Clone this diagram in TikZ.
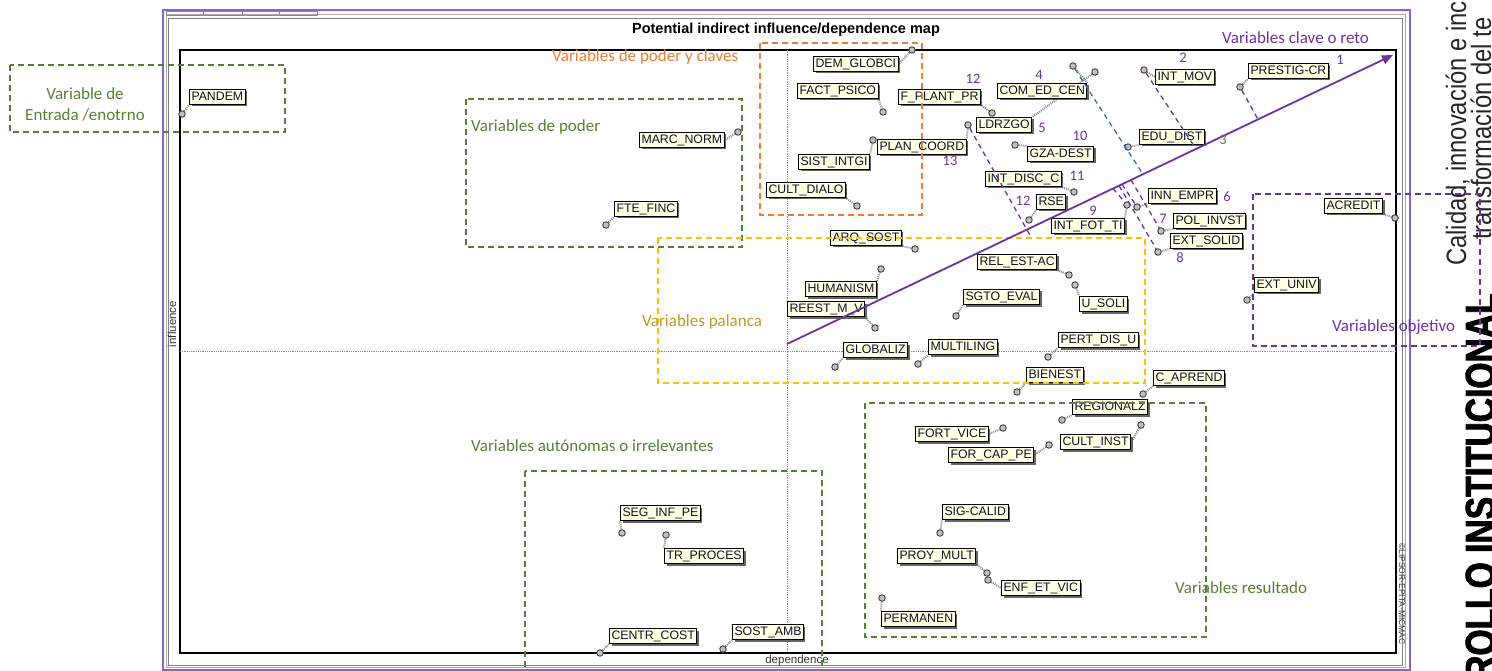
\documentclass[tikz,border=0pt]{standalone}
\usepackage{fontspec}
\setmainfont{Liberation Sans}
\newfontfamily\notefont{Carlito}
\newfontfamily\condfont[FakeStretch=0.85]{Liberation Sans}
\newfontfamily\headfont[FakeStretch=0.8, BoldFeatures={FakeBold=2}]{Liberation Sans}
\usetikzlibrary{shadows,arrows.meta}

\definecolor{purp}{RGB}{112,48,160}
\definecolor{grn}{RGB}{84,130,53}
\definecolor{orng}{RGB}{237,125,49}
\definecolor{gold}{RGB}{255,192,0}
\definecolor{goldtxt}{RGB}{196,152,30}
\definecolor{bluel}{RGB}{46,117,182}
\definecolor{cream}{RGB}{255,255,225}
\definecolor{winframe}{RGB}{140,100,200}
\definecolor{labeltext}{RGB}{15,15,45}

\pgfdeclarelayer{frame}
\pgfdeclarelayer{links}
\pgfdeclarelayer{notes}
\pgfsetlayers{frame,links,main,notes}

\tikzset{
  lbl/.style={draw=black, line width=1pt, fill=cream, text=labeltext,
    font=\fontsize{12.3}{14}\selectfont, inner xsep=2pt, inner ysep=1.8pt,
    text height=9pt, text depth=2.4pt, anchor=north west,
    drop shadow={shadow xshift=2pt, shadow yshift=-2pt, fill=black!60, opacity=1}},
  pt/.style={circle, draw=black!75, fill=black!25, line width=0.9pt,
    minimum size=6.5pt, inner sep=0pt},
  cnx/.style={draw=black!45, line width=2pt, dash pattern=on 1pt off 1pt},
  grp/.style={dash pattern=on 6pt off 4pt, line width=1.4pt},
  note/.style={font=\notefont\fontsize{17}{21}\selectfont, inner sep=0pt, anchor=west},
  num/.style={font=\notefont\fontsize{14.5}{15}\selectfont, text=purp, inner sep=0pt},
  proj/.style={draw=purp, line width=1.3pt, dash pattern=on 5pt off 4pt},
  axislbl/.style={font=\fontsize{11.5}{12}\selectfont, text=black!80, inner sep=0pt}
}

% one plotted variable: label box, its point, and the link between them
\newcommand{\plotvar}[5]{%
  \node[lbl] (#1) at (#2) {#3};
  \node[pt] (#1p) at (#4) {};
  \begin{pgfonlayer}{links}\draw[cnx] (#1p) -- (#1.#5);\end{pgfonlayer}}

\begin{document}
\begin{tikzpicture}[x=1pt, y=-1pt]
\useasboundingbox (0,0) rectangle (1492,671);

% ---------- window and plot frame ----------
\begin{pgfonlayer}{frame}
  \draw[winframe, line width=2pt] (163,10) rectangle (1410,670);
  \draw[black!35, line width=1pt] (166,15) rectangle (1405,667);
  \draw[black!50, line width=1pt] (168,19) rectangle (1402,665);
  \foreach \a/\b in {166/203, 203/242, 242/279, 279/317}
    \draw[black!45, line width=0.8pt] (\a,11) rectangle (\b,15);
  \draw[black, line width=1.2pt] (180,50) rectangle (1396,653);
  \draw[black!45, line width=0.8pt, densely dotted] (787,50) -- (787,653);
  \draw[black!45, line width=0.8pt, densely dotted] (180,351) -- (1396,351);
\end{pgfonlayer}

\node[font=\bfseries\fontsize{14.5}{16}\selectfont, inner sep=0pt] (title) at (786,30)
  {Potential indirect influence/dependence map};
\node[axislbl] (deplbl) at (797,661) {dependence};
\node[axislbl, rotate=90] (inflbl) at (172,324) {influence};
\node[font=\fontsize{8.5}{9}\selectfont, rotate=-90, inner sep=0pt, text=black!80] (copy)
  at (1402,594) {©LIPSOR-EPITA-MICMAC};

% ---------- plotted variables ----------
\plotvar{pandem}{189,89}{PANDEM}{182,114}{south west}
\plotvar{demglob}{813,56}{DEM\_GLOBCI}{912,50}{east}
\plotvar{factpsico}{797,83}{FACT\_PSICO}{883,112}{south east}
\plotvar{fplant}{898,89}{F\_PLANT\_PR}{992,113}{south east}
\plotvar{comed}{997,83}{COM\_ED\_CEN}{1073,66}{north east}
\plotvar{ldr}{976,117}{LDRZGO}{1095,72}{north east}
\plotvar{plan}{877,139}{PLAN\_COORD}{968,125}{north east}
\plotvar{sist}{798,154}{SIST\_INTGI}{873,140}{north east}
\plotvar{cultd}{766,182}{CULT\_DIALO}{857,206}{south east}
\plotvar{gza}{1027,146}{GZA-DEST}{1015,145}{north west}
\plotvar{edu}{1139,129}{EDU\_DIST}{1128,147}{south west}
\plotvar{intmov}{1155,69}{INT\_MOV}{1144,70}{west}
\plotvar{prestig}{1248,63}{PRESTIG-CR}{1240,87}{south west}
\plotvar{intdisc}{985,171}{INT\_DISC\_C}{1074,192}{south east}
\plotvar{rse}{1036,194}{RSE}{1029,220}{south west}
\plotvar{intfot}{1051,218}{INT\_FOT\_TI}{1127,205}{north east}
\plotvar{innempr}{1148,188}{INN\_EMPR}{1137,207}{south west}
\plotvar{polinv}{1173,213}{POL\_INVST}{1161,231}{south west}
\plotvar{extsol}{1170,233}{EXT\_SOLID}{1158,252}{south west}
\plotvar{acred}{1324,198}{ACREDIT}{1395,218}{south east}
\plotvar{extuniv}{1254,277}{EXT\_UNIV}{1247,300}{south west}
\plotvar{marc}{639,132}{MARC\_NORM}{738,132}{east}
\plotvar{fte}{614,201}{FTE\_FINC}{606,225}{south west}
\plotvar{arq}{830,230}{ARQ\_SOST}{915,249}{south east}
\plotvar{relest}{977,254}{REL\_EST-AC}{1069,275}{south east}
\plotvar{usoli}{1079,296}{U\_SOLI}{1075,285}{north west}
\plotvar{human}{805,281}{HUMANISM}{881,269}{north east}
\plotvar{reest}{787,301}{REEST\_M\_V}{875,328}{south east}
\plotvar{sgto}{963,289}{SGTO\_EVAL}{956,316}{south west}
\plotvar{glob}{843,342}{GLOBALIZ}{835,367}{south west}
\plotvar{multi}{928,339}{MULTILING}{918,364}{south west}
\plotvar{pert}{1058,332}{PERT\_DIS\_U}{1048,357}{south west}
\plotvar{bien}{1026,367}{BIENEST}{1017,392}{south west}
\plotvar{capr}{1153,370}{C\_APREND}{1143,394}{south west}
\plotvar{regio}{1072,399}{REGIONALZ}{1062,420}{south west}
\plotvar{fortv}{915,426}{FORT\_VICE}{1003,428}{east}
\plotvar{cultinst}{1060,434}{CULT\_INST}{1141,425}{east}
\plotvar{forcap}{948,447}{FOR\_CAP\_PE}{1049,445}{east}
\plotvar{sigcal}{942,504}{SIG-CALID}{940,533}{south west}
\plotvar{proy}{897,548}{PROY\_MULT}{987,573}{south east}
\plotvar{enf}{1001,580}{ENF\_ET\_VIC}{988,580}{west}
\plotvar{perm}{881,611}{PERMANEN}{882,598}{north west}
\plotvar{seg}{620,505}{SEG\_INF\_PE}{622,533}{south west}
\plotvar{trproc}{664,548}{TR\_PROCES}{666,535}{north west}
\plotvar{centr}{609,628}{CENTR\_COST}{600,653}{south west}
\plotvar{sost}{732,624}{SOST\_AMB}{723,649}{south west}

% ---------- annotations ----------
\begin{pgfonlayer}{notes}
  % groups
  \draw[grp, grn]  (10,65)   rectangle (285,132);
  \draw[grp, grn]  (466,99)  rectangle (742,247);
  \draw[grp, orng] (760,43)  rectangle (922,215);
  \draw[grp, gold] (658,238) rectangle (1145,383);
  \draw[grp, purp] (1253,194) rectangle (1480,346);
  \draw[grp, grn]  (525,471) rectangle (822,690);
  \draw[grp, grn]  (865,403) rectangle (1206,637);

  \node[note, text=grn, align=center, anchor=center] (gin) at (85,104)
    {Variable de\\Entrada /enotrno};
  \node[note, text=grn]  (gpod) at (471,127) {Variables de poder};
  \node[note, text=orng] (gpodc) at (552,57) {Variables de poder y claves};
  \node[note, text=purp] (gclave) at (1222,38) {Variables clave o reto};
  \node[note, text=goldtxt] (gpal) at (642,322) {Variables palanca};
  \node[note, text=purp] (gobj) at (1332,327) {Variables objetivo};
  \node[note, text=grn]  (gaut) at (471,446) {Variables autónomas o irrelevantes};
  \node[note, text=grn]  (gres) at (1175,588) {Variables resultado};

  % strategic diagonal
  \coordinate (dA) at (787,344);
  \coordinate (dB) at (1393,55);
  \draw[purp, line width=1.8pt, -{Triangle[length=11pt,width=9pt]}] (dA) -- (dB);

  % projections onto the diagonal
  \coordinate (f1) at (1258,119.4);
  \coordinate (f2) at (1196,149);
  \coordinate (f4) at (1143,174.2);
  \coordinate (f13) at (1031,237);
  \coordinate (f9) at (1113,188.5);
  \coordinate (f6) at (1122,184.2);
  \coordinate (f8) at (1119,185.7);
  \coordinate (f7) at (1131,179.9);
  \draw[proj] (prestigp) -- (f1);
  \draw[proj] (intmovp) -- (f2);
  \draw[proj, draw=bluel] (comedp) -- (f4);
  \draw[proj] (planp) -- (f13);
  \draw[proj] (f9) -- (intfotp);
  \draw[proj] (f6) -- (innemprp);
  \draw[proj] (f8) -- (extsolp);
  \draw[proj] (f7) -- (polinvp);

  % ranks
  \node[num] (n1) at (1340,60) {1};
  \node[num] (n2) at (1183,58) {2};
  \node[num, text=grn] (n3) at (1223,140) {3};
  \node[num] (n4) at (1039,75) {4};
  \node[num] (n5) at (1042,128) {5};
  \node[num] (n6) at (1227,197) {6};
  \node[num] (n7) at (1163,219) {7};
  \node[num] (n8) at (1180,258) {8};
  \node[num] (n9) at (1093,211) {9};
  \node[num] (n10) at (1080,136) {10};
  \node[num] (n11) at (1077,176) {11};
  \node[num] (n12a) at (1023,201) {12};
  \node[num] (n12b) at (973,79) {12};
  \node[num] (n13) at (950,161) {13};
\end{pgfonlayer}

% ---------- side banner ----------
\node[rotate=90, anchor=base west, inner sep=0pt, text=black!85,
  font=\condfont\fontsize{28}{28}\selectfont] (cal1) at (1466,266) {Calidad, innovación e incl};
\node[rotate=90, anchor=base west, inner sep=0pt, text=black!85,
  font=\condfont\fontsize{28}{28}\selectfont] (cal2) at (1491,240) {transformación del te};
\node[rotate=90, anchor=base west, inner sep=0pt, text=black,
  font=\headfont\bfseries\fontsize{42}{42}\selectfont] (inst) at (1495,680) {ROLLO INSTITUCIONAL};
\end{tikzpicture}
\end{document}
